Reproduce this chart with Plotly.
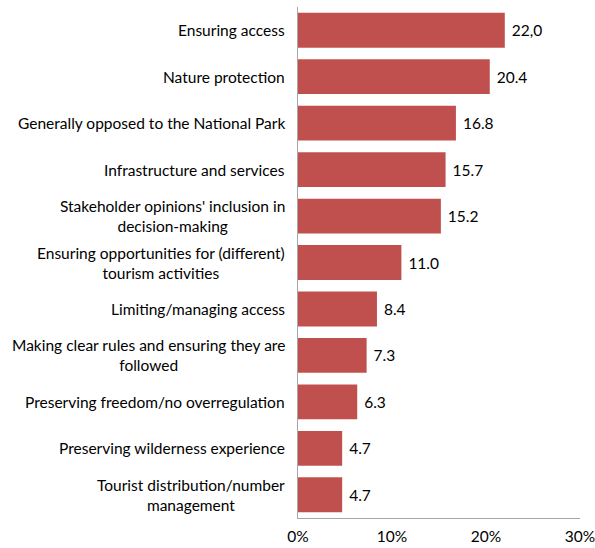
import plotly.graph_objects as go

categories = [
    "Ensuring access",
    "Nature protection",
    "Generally opposed to the National Park",
    "Infrastructure and services",
    "Stakeholder opinions' inclusion in<br>decision-making",
    "Ensuring opportunities for (different)<br>tourism activities",
    "Limiting/managing access",
    "Making clear rules and ensuring they are<br>followed",
    "Preserving freedom/no overregulation",
    "Preserving wilderness experience",
    "Tourist distribution/number<br>management",
]
values = [22.0, 20.4, 16.8, 15.7, 15.2, 11.0, 8.4, 7.3, 6.3, 4.7, 4.7]
value_labels = ["22,0", "20.4", "16.8", "15.7", "15.2", "11.0", "8.4", "7.3", "6.3", "4.7", "4.7"]
x_ticks = [0, 10, 20, 30]
x_tick_labels = ["0%", "10%", "20%", "30%"]

FONT = "Lato"
FS = 15.5
fig = go.Figure(go.Bar(
    x=values, y=categories, orientation="h",
    marker=dict(color="#C0504D", line=dict(width=0)),
    width=0.75,
    text=["\u00a0" + t for t in value_labels], textposition="outside",
    textfont=dict(family=FONT, size=FS, color="#000000"),
    cliponaxis=False,
))

annotations = [
    dict(x=0, y=c, xref="paper", yref="y", text=c, showarrow=False,
         xanchor="right", yanchor="middle", align="center", xshift=-11,
         font=dict(family=FONT, size=FS, color="#000000"))
    for c in categories
]

fig.update_layout(
    width=595, height=548,
    margin=dict(l=298, r=15, t=7, b=30, autoexpand=False),
    paper_bgcolor="white", plot_bgcolor="white",
    showlegend=False,
    annotations=annotations,
    xaxis=dict(range=[0, 30], tickvals=x_ticks, ticktext=x_tick_labels,
               showgrid=False, zeroline=False, showline=True,
               linecolor="#A6A6A6", linewidth=1, ticks="",
               ticklabeloverflow="allow", automargin=False,
               ticklabelstandoff=4,
               tickfont=dict(family=FONT, size=FS, color="#000000")),
    yaxis=dict(autorange="reversed", showticklabels=False, showgrid=False,
               zeroline=False, showline=True, linecolor="#A6A6A6",
               linewidth=1, ticks="", automargin=False),
    font=dict(family=FONT),
)

fig.write_html(
    "out.html",
    config={"displayModeBar": False},
    post_script="document.body.style.margin='0';document.body.style.overflow='hidden';",
)
